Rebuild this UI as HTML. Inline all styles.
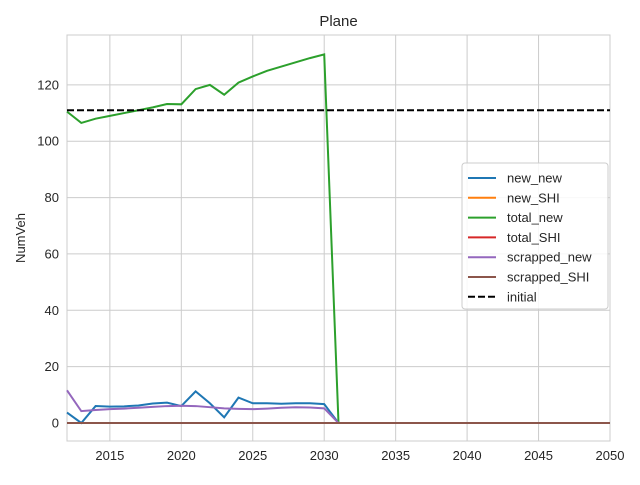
<!DOCTYPE html>
<html><head><meta charset="utf-8"><style>
body{margin:0;background:#fff;font-family:"Liberation Sans","DejaVu Sans",sans-serif}
svg text{font-family:"Liberation Sans","DejaVu Sans",sans-serif;fill:#262626}
</style></head><body>
<svg id="c" width="640" height="480"></svg>
<script>
const years=[];for(let y=2012;y<=2050;y++)years.push(y);
const zerosTail=new Array(20).fill(0);
const newNew=[3.7,0,6,5.8,5.9,6.2,6.9,7.2,6,11.2,7,2,9,7,7,6.8,7,7,6.7].concat(zerosTail);
const newSHI=new Array(39).fill(0);
const totalNew=[110.5,106.5,108,109,110,111,112,113.2,113.1,118.5,120,116.5,120.8,123,125,126.5,128,129.5,130.8].concat(zerosTail);
const totalSHI=new Array(39).fill(0);
const scrappedNew=[11.6,4.2,4.6,4.9,5.1,5.4,5.7,6,6.1,6,5.6,5.2,5,4.9,5.1,5.4,5.6,5.5,5.2].concat(zerosTail);
const scrappedSHI=new Array(39).fill(0);
const initialVal=111;
const xTicks=[2015,2020,2025,2030,2035,2040,2045,2050];
const yTicks=[0,20,40,60,80,100,120];
const seriesNames=["new_new","new_SHI","total_new","total_SHI","scrapped_new","scrapped_SHI"];
const seriesData=[newNew,newSHI,totalNew,totalSHI,scrappedNew,scrappedSHI];
const colors=["#1f77b4","#ff7f0e","#2ca02c","#d62728","#9467bd","#8c564b"];
const L=67,R=610,T=35,B=441,X0=2012,X1=2050,Y0=-6.4,Y1=137.7;
const sx=v=>L+(v-X0)/(X1-X0)*(R-L), sy=v=>B-(v-Y0)/(Y1-Y0)*(B-T);
const svg=document.getElementById('c');const NS="http://www.w3.org/2000/svg";
function el(t,a,p){const e=document.createElementNS(NS,t);for(const k in a)e.setAttribute(k,a[k]);(p||svg).appendChild(e);return e;}
xTicks.forEach(v=>{const l=el('line',{x1:sx(v),x2:sx(v),y1:T,y2:B,stroke:'#cccccc'});

const t=el('text',{x:sx(v),y:B+19,'text-anchor':'middle','font-size':13});t.textContent=v;
});
yTicks.forEach(v=>{const l=el('line',{x1:L,x2:R,y1:sy(v),y2:sy(v),stroke:'#cccccc'});

const t=el('text',{x:L-8,y:sy(v)+4.5,'text-anchor':'end','font-size':13});t.textContent=v;
});
const fr=el('rect',{x:L,y:T,width:R-L,height:B-T,fill:'none',stroke:'#cccccc'});

seriesData.forEach((d,i)=>{const p=el('polyline',{points:d.map((v,j)=>sx(years[j])+','+sy(v)).join(' '),fill:'none',stroke:colors[i],'stroke-width':2});
});
const il=el('line',{x1:L,x2:R,y1:sy(initialVal),y2:sy(initialVal),stroke:'#000','stroke-width':2,'stroke-dasharray':'7,3'});

const tt=el('text',{x:(L+R)/2,y:26,'text-anchor':'middle','font-size':15});tt.textContent='Plane';

const yl=el('text',{x:25,y:(T+B)/2,'text-anchor':'middle','font-size':13,transform:`rotate(-90 25 ${(T+B)/2})`});yl.textContent='NumVeh';

const lg=el('g',{});
el('rect',{x:462,y:163,width:146,height:146,rx:3,fill:'#fff','fill-opacity':0.85,stroke:'#cccccc'},lg);
const names=seriesNames.concat(['initial']);
names.forEach((n,i)=>{const y=178+i*19.8;
const ln=el('line',{x1:468,x2:496,y1:y,y2:y,stroke:i<6?colors[i]:'#000','stroke-width':2,'stroke-dasharray':i<6?'none':'7,3'},lg);

const t=el('text',{x:507,y:y+4.5,'font-size':13},lg);t.textContent=n;
});
</script>
</body></html>
